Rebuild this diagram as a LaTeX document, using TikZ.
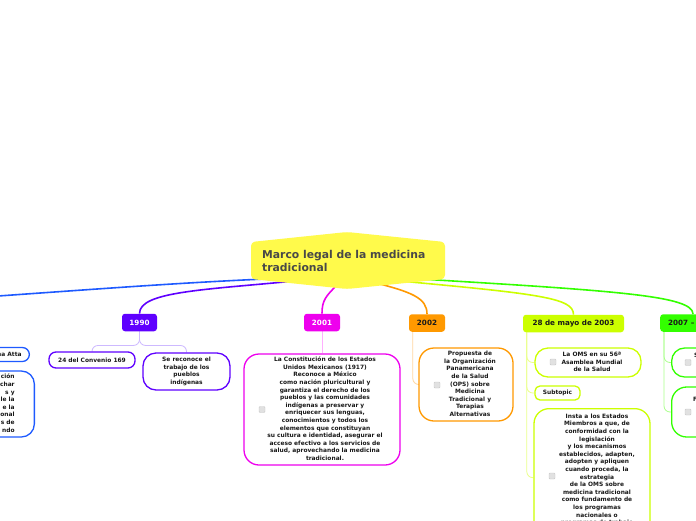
\documentclass[tikz,border=0pt]{standalone}
\usepackage{fontspec}
\setmainfont{DejaVu Sans}
\usetikzlibrary{calc}
\definecolor{cyel}{RGB}{255,250,75}
\definecolor{ctitle}{RGB}{72,72,72}
\definecolor{tx}{RGB}{25,25,25}
\definecolor{cblue}{RGB}{30,90,255}
\definecolor{cpurp}{RGB}{95,0,255}
\definecolor{cmag}{RGB}{238,0,238}
\definecolor{corng}{RGB}{255,153,0}
\definecolor{clime}{RGB}{204,255,0}
\definecolor{cgreen}{RGB}{51,255,0}
\definecolor{lpurp}{RGB}{205,185,255}
\definecolor{lmag}{RGB}{255,175,255}
\definecolor{lorng}{RGB}{255,215,160}
\definecolor{llime}{RGB}{235,255,140}
\definecolor{lgreen}{RGB}{170,255,140}
\definecolor{chkf}{RGB}{225,225,225}
\definecolor{chkb}{RGB}{200,200,200}
\newcommand\mylines[1]{\begin{tabular}{@{}c@{}}#1\end{tabular}}
\newcommand\mylinesr[1]{\begin{tabular}{@{}r@{}}#1\end{tabular}}
\pgfdeclarelayer{bg}
\pgfsetlayers{bg,main}
\begin{document}
\begin{tikzpicture}[x=1pt,y=-1pt,
  hdr/.style={rounded corners=3pt, inner sep=0pt, minimum height=17.5pt, font=\fontsize{7.2}{8.6}\selectfont\bfseries},
  kid/.style={draw, line width=1.3pt, fill=white, inner sep=1pt, font=\fontsize{5.9}{7.6}\selectfont\bfseries, text=tx},
  chk/.style={draw=chkb, fill=chkf, minimum size=6pt, inner sep=0pt, rounded corners=1pt, line width=0.4pt},
  sliver/.style={inner sep=0pt, font=\fontsize{5.9}{7.6}\selectfont\bfseries, text=tx},
  mainln/.style={line width=1.6pt},
  subln/.style={line width=0.8pt, rounded corners=6pt}]
\useasboundingbox (0,0) rectangle (696,520);
\clip (0,0) rectangle (696,520);

% central topic
\fill[cyel, rounded corners=4pt] (251,242) -- (347,232) -- (445,242) -- (445,279) -- (347,289) -- (251,279) -- cycle;
\node[anchor=north west, inner sep=0pt, align=left, text=ctitle,
      font=\fontsize{10.8}{13.5}\selectfont\bfseries] (c) at (262,250) {Marco legal de la medicina\\tradicional};
\coordinate (sB) at (290,278);
\coordinate (sP) at (295,281);
\coordinate (sM) at (338,284);
\coordinate (sO) at (372,282);
\coordinate (sL) at (400,281);
\coordinate (sG) at (420,279);
\coordinate (bluehead) at (-60,300);

% headers
\node[hdr, fill=cpurp, text=white, minimum width=35pt] (h1990) at (139.5,322.5) {1990};
\node[hdr, fill=cmag, text=white, minimum width=36pt] (h2001) at (322,322.5) {2001};
\node[hdr, fill=corng, text=tx, minimum width=36pt] (h2002) at (427,323) {2002};
\node[hdr, fill=clime, text=tx, minimum width=101pt] (h2003) at (573.5,323.5) {28 de mayo de 2003};
\node[hdr, fill=cgreen, text=tx, anchor=west, inner xsep=8pt] (h2007) at (660,323) {2007 –};

% blue branch children (mostly off canvas)
\node[kid, draw=cblue, rounded corners=7pt, anchor=east, minimum width=80pt, minimum height=14pt] (nb0) at (30,354.5) {\hspace*{40pt}na Atta};
\node[kid, draw=cblue, rounded corners=13pt, anchor=east, minimum width=100pt, minimum height=66pt] (nb1) at (35,404)
  {\hspace*{42pt}\mylinesr{ción\\echar\\s y\\le la\\e la\\onal\\s de\\ndo}};

% 1990 children
\node[kid, draw=cpurp, rounded corners=7pt, minimum width=86pt, minimum height=16pt] (n1a) at (92,360) {24 del Convenio 169};
\node[kid, draw=cpurp, rounded corners=13pt, minimum width=87pt, minimum height=37pt] (n1b) at (186.5,371.5)
  {\mylines{Se reconoce el\\trabajo de los\\pueblos\\indígenas}};

% 2001 child
\node[kid, draw=cmag, rounded corners=15pt, minimum width=156pt, minimum height=111pt] (n2) at (322,409.5)
  {\hspace*{6pt}\mylines{La Constitución de los Estados\\Unidos Mexicanos (1917)\\Reconoce a México\\como nación pluricultural y\\garantiza el derecho de los\\pueblos y las comunidades\\indígenas a preservar y\\enriquecer sus lenguas,\\conocimientos y todos los\\elementos que constituyan\\su cultura e identidad, asegurar el\\acceso efectivo a los servicios de\\salud, aprovechando la medicina\\tradicional.}};
\node[chk] (cb2) at (262,409.5) {};

% 2002 child
\node[kid, draw=corng, rounded corners=15pt, minimum width=94pt, minimum height=73pt] (n3) at (466,384.5)
  {\hspace*{8pt}\mylines{Propuesta de\\la Organización\\Panamericana\\de la Salud\\(OPS) sobre\\Medicina\\Tradicional y\\Terapias\\Alternativas}};
\node[chk] (cb3) at (437,385) {};

% 2003 children
\node[kid, draw=clime, rounded corners=13pt, minimum width=106pt, minimum height=29pt] (n4a) at (588,362.5)
  {\hspace*{8pt}\mylines{La OMS en su 56ª\\Asamblea Mundial\\de la Salud}};
\node[chk] (cb4a) at (553,362) {};
\node[kid, draw=clime, rounded corners=5pt, minimum width=45pt, minimum height=14pt] (n4b) at (557.5,393) {Subtopic};
\node[kid, draw=clime, rounded corners=15pt, minimum width=116pt, inner ysep=4.4pt, anchor=north] (n4c) at (592,408)
  {\hspace*{10pt}\mylines{Insta a los Estados\\Miembros a que, de\\conformidad con la\\legislación\\y los mecanismos\\establecidos, adapten,\\adopten y apliquen\\cuando proceda, la\\estrategia\\de la OMS sobre\\medicina tradicional\\como fundamento de\\los programas\\nacionales o\\programas de trabajo\\ \\ \\ }};
\node[chk] (cb4c) at (552,476) {};

% 2007 children
\node[kid, draw=cgreen, rounded corners=13pt, anchor=west, minimum width=120pt, minimum height=29pt] (n5a) at (671,362.5) {};
\node[kid, draw=cgreen, rounded corners=15pt, anchor=west, minimum width=120pt, minimum height=50pt] (n5b) at (671,412) {};
\node[chk] (cb5a) at (688,362.5) {};
\node[chk] (cb5b) at (688,412) {};
\node[sliver, anchor=west] (t5a) at (694,355) {S};
\node[sliver, anchor=west] (t5b) at (693,399) {F};

\begin{pgfonlayer}{bg}
  \fill[white] (0,0) rectangle (696,520);
  \draw[mainln, cblue] (sB) .. controls (180,282) and (60,292) .. (bluehead);
  \draw[mainln, cpurp] (sP) .. controls (200,290) and (139.5,292) .. (h1990.north);
  \draw[mainln, cmag] (sM) .. controls (326,296) and (322,300) .. (h2001.north);
  \draw[mainln, corng] (sO) .. controls (412,292) and (427,298) .. (h2002.north);
  \draw[mainln, clime] (sL) .. controls (540,294) and (573.5,298) .. (h2003.north);
  \draw[mainln, cgreen] (sG) .. controls (620,291) and (693,296) .. ($(h2007.north west)+(33,0)$);

  \draw[subln, lpurp] (h1990.south) -- ++(0,14) -| (n1a.north);
  \draw[subln, lpurp] (h1990.south) -- ++(0,14) -| (n1b.north);
  \draw[subln, lmag] (h2001.south) -- (n2.north);
  \draw[subln, lorng] ([xshift=4pt]h2002.south west) |- (n3.west);
  \draw[subln, llime] ([xshift=4pt]h2003.south west) |- (n4a.west);
  \draw[subln, llime] ([xshift=4pt]h2003.south west) |- (n4b.west);
  \draw[subln, llime] ([xshift=4pt]h2003.south west) |- (n4c.west);
  \draw[subln, lgreen] ([xshift=4pt]h2007.south west) |- (n5a.west);
  \draw[subln, lgreen] ([xshift=4pt]h2007.south west) |- (n5b.west);
\end{pgfonlayer}
\end{tikzpicture}
\end{document}
